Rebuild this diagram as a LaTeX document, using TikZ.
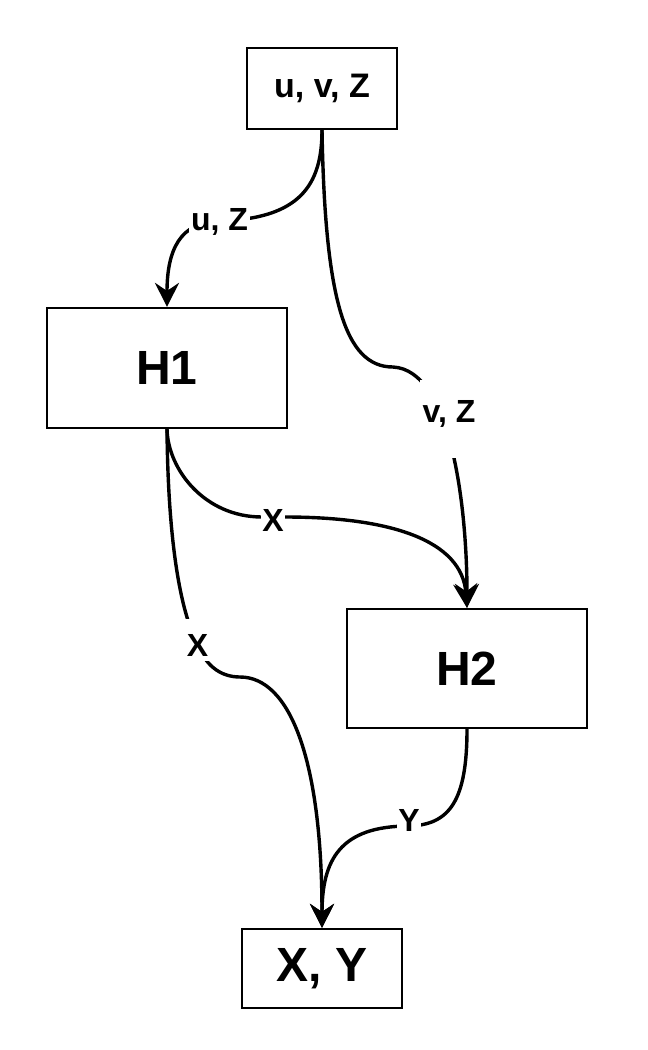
\documentclass[tikz,border=0pt]{standalone}
\usepackage{fontspec}
\setmainfont{Liberation Sans}
\usetikzlibrary{arrows.meta}
\begin{document}
\begin{tikzpicture}[x=1pt,y=-1pt,
  box/.style={draw,line width=2.2pt,inner sep=0pt,font=\bfseries\fontsize{48}{56}\selectfont},
  conn/.style={line width=3.4pt,-{Stealth[length=24pt,width=24pt,inset=8pt]}},
  lab/.style={fill=white,inner sep=0pt,anchor=base,font=\bfseries\fontsize{32}{38}\selectfont}]
\useasboundingbox (0,0) rectangle (648,1050);
\node[box,minimum width=150pt,minimum height=81pt,font=\bfseries\fontsize{34}{40}\selectfont] (top) at (322,88.5) {u, v, Z};
\node[box,minimum width=240pt,minimum height=120pt] (H1) at (167,368) {H1};
\node[box,minimum width=240pt,minimum height=119pt] (H2) at (467,668.5) {H2};
\node[box,minimum width=160pt,minimum height=79pt] (XY) at (322,968.5) {X, Y};
% connectors
\draw[conn] (top.south) .. controls (322,185) and (300,219) .. (219,221) .. controls (180,222) and (167,250) .. (H1.north);
\draw[conn] (top.south) .. controls (325,300) and (345,367) .. (393,367) .. controls (452,370) and (467,510) .. (H2.north);
\draw[conn] (H1.south) .. controls (168,470) and (205,517) .. (262,517) -- (285,517) .. controls (390,517) and (462,540) .. (H2.north);
\draw[conn] (H1.south) .. controls (168,540) and (180,610) .. (197,643) .. controls (205,665) and (220,677) .. (240,677) .. controls (290,677) and (322,760) .. (XY.north);
\draw[conn] (H2.south) .. controls (467,800) and (450,825) .. (409,826) .. controls (340,826) and (322,860) .. (XY.north);
% labels
\node[lab,text height=24pt,text depth=6pt,inner xsep=2pt] (luz) at (219.5,230) {u, Z};
\node[lab,text height=42pt,text depth=36pt,inner xsep=3pt] (lvz) at (449,422) {v, Z};
\node[lab,text height=26pt,text depth=3pt,inner xsep=1.5pt] (lx1) at (273,531) {X};
\node[lab,text height=37pt,text depth=5pt,inner xsep=2pt] (lx2) at (197.5,656) {X};
\node[lab,text height=26pt,text depth=4pt,inner xsep=1.5pt] (ly) at (409,831) {Y};
\end{tikzpicture}
\end{document}
